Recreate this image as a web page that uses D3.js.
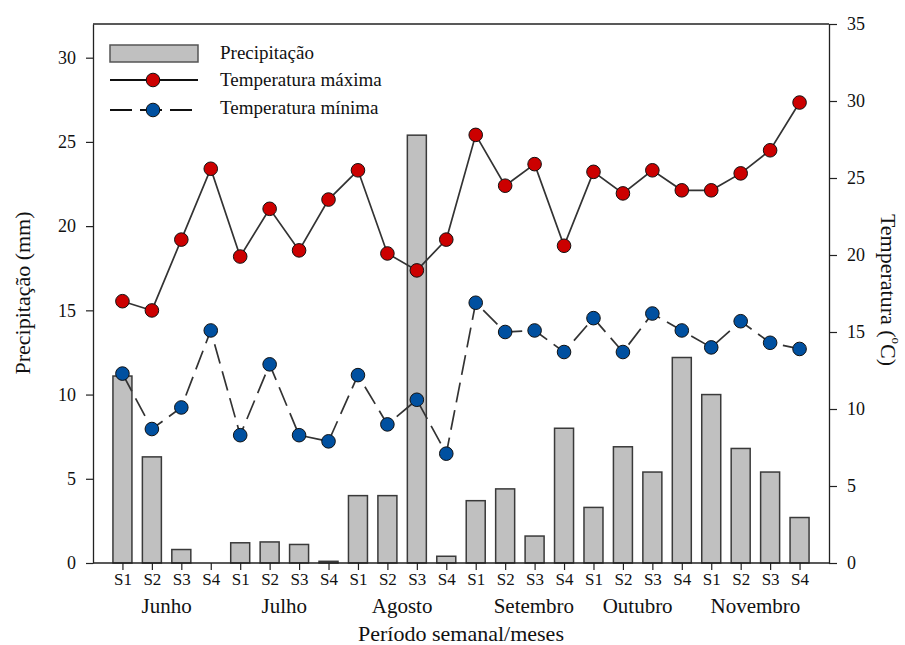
<!DOCTYPE html>
<html>
<head>
<meta charset="utf-8">
<script src="https://cdn.jsdelivr.net/npm/d3@7/dist/d3.min.js"></script>
<style>
  html, body { margin: 0; padding: 0; background: #fff; }
  svg { display: block; font-family: "Liberation Serif", "Times New Roman", serif; }
</style>
</head>
<body>
<svg id="chart" width="905" height="645"></svg>
<script>
// Weekly climate record, June to November
const months = ["Junho", "Julho", "Agosto", "Setembro", "Outubro", "Novembro"];
const weeks = ["S1", "S2", "S3", "S4"];

// Precipitation per week (mm)
const precipitacao = [
  11.1, 6.3, 0.8, 0.0,
  1.2, 1.25, 1.1, 0.1,
  4.0, 4.0, 25.4, 0.4,
  3.7, 4.4, 1.6, 8.0,
  3.3, 6.9, 5.4, 12.2,
  10.0, 6.8, 5.4, 2.7
];

// Maximum temperature per week (°C)
const tempMaxima = [
  17.0, 16.4, 21.0, 25.6,
  19.9, 23.0, 20.3, 23.6,
  25.5, 20.1, 19.0, 21.0,
  27.8, 24.5, 25.9, 20.6,
  25.4, 24.0, 25.5, 24.2,
  24.2, 25.3, 26.8, 29.9
];

// Minimum temperature per week (°C)
const tempMinima = [
  12.3, 8.7, 10.1, 15.1,
  8.3, 12.9, 8.3, 7.9,
  12.2, 9.0, 10.6, 7.1,
  16.9, 15.0, 15.1, 13.7,
  15.9, 13.7, 16.2, 15.1,
  14.0, 15.7, 14.3, 13.9
];

const precipTicks = [0, 5, 10, 15, 20, 25, 30];
const tempTicks = [0, 5, 10, 15, 20, 25, 30, 35];

// One record per week
const rows = [];
months.forEach((m, mi) => {
  weeks.forEach((w, wi) => {
    const i = mi * 4 + wi;
    rows.push({
      key: m + "-" + w, month: m, week: w,
      prec: precipitacao[i], tmax: tempMaxima[i], tmin: tempMinima[i]
    });
  });
});

const svg = d3.select("#chart");
const serif = "'Liberation Serif', 'Times New Roman', serif";
const plot = { left: 93, right: 829, top: 24, bottom: 563 };

const x = d3.scalePoint()
  .domain(rows.map(d => d.key))
  .range([plot.left, plot.right])
  .padding(1);

const yP = d3.scaleLinear().domain([0, 32]).range([plot.bottom, plot.top]);
const yT = d3.scaleLinear().domain([0, 35]).range([plot.bottom, plot.top]);

const ink = "#222";
const barW = 19;

// Bars: precipitation
svg.append("g")
  .selectAll("rect")
  .data(rows.filter(d => d.prec > 0))
  .join("rect")
  .attr("x", d => x(d.key) - barW / 2)
  .attr("y", d => yP(d.prec))
  .attr("width", barW)
  .attr("height", d => yP(0) - yP(d.prec))
  .attr("fill", "#c0c0c0")
  .attr("stroke", "#3a3a3a")
  .attr("stroke-width", 1.5);

// Frame top line
svg.append("line")
  .attr("x1", plot.left).attr("x2", plot.right)
  .attr("y1", plot.top).attr("y2", plot.top)
  .attr("stroke", ink).attr("stroke-width", 1.3);

// Axes
const styleAxis = (g, size) => {
  g.attr("font-family", serif).attr("font-size", size);
  g.selectAll(".domain").attr("stroke", ink).attr("stroke-width", 1.3);
  g.selectAll(".tick line").attr("stroke", ink).attr("stroke-width", 1.2);
  g.selectAll(".tick text").attr("fill", "#111");
};

svg.append("g")
  .attr("transform", `translate(${plot.left},0)`)
  .call(d3.axisLeft(yP).tickValues(precipTicks).tickSize(7).tickSizeOuter(0).tickPadding(10))
  .call(styleAxis, 18);

svg.append("g")
  .attr("transform", `translate(${plot.right},0)`)
  .call(d3.axisRight(yT).tickValues(tempTicks).tickSize(8).tickSizeOuter(0).tickPadding(10))
  .call(styleAxis, 18);

svg.append("g")
  .attr("transform", `translate(0,${plot.bottom})`)
  .call(d3.axisBottom(x).tickSize(7).tickSizeOuter(0).tickPadding(3)
    .tickFormat(k => k.split("-")[1]))
  .call(styleAxis, 17)
  .call(g => g.select(".domain").attr("d", `M${plot.left},0H${plot.right}`));

// Month names under each group of weeks
const monthNudge = { Setembro: 14 };
svg.append("g")
  .selectAll("text")
  .data(months)
  .join("text")
  .attr("x", m => (x(m + "-S2") + x(m + "-S3")) / 2 + (monthNudge[m] || 0))
  .attr("y", 613)
  .attr("text-anchor", "middle")
  .attr("fill", "#111")
  .style("font-size", "21px")
  .text(m => m);

// Axis titles
svg.append("text")
  .attr("x", (plot.left + plot.right) / 2)
  .attr("y", 641)
  .attr("text-anchor", "middle")
  .attr("fill", "#111")
  .style("font-size", "22px")
  .text("Período semanal/meses");

svg.append("text")
  .attr("transform", "translate(22,293) rotate(-90)")
  .attr("text-anchor", "middle")
  .attr("dominant-baseline", "central")
  .attr("fill", "#111")
  .style("font-size", "22px")
  .text("Precipitação (mm)");

const tTitle = svg.append("text")
  .attr("transform", "translate(889,290) rotate(90)")
  .attr("text-anchor", "middle")
  .attr("dominant-baseline", "central")
  .attr("fill", "#111")
  .style("font-size", "22px");
tTitle.append("tspan").text("Temperatura (");
tTitle.append("tspan").attr("dy", -8).style("font-size", "13px").text("o");
tTitle.append("tspan").attr("dy", 8).text("C)");

// Temperature lines
const lineMax = d3.line().x(d => x(d.key)).y(d => yT(d.tmax));
const lineMin = d3.line().x(d => x(d.key)).y(d => yT(d.tmin));

svg.append("path")
  .datum(rows)
  .attr("d", lineMax)
  .attr("fill", "none")
  .attr("stroke", "#333")
  .attr("stroke-width", 1.7);

svg.append("path")
  .datum(rows)
  .attr("d", lineMin)
  .attr("fill", "none")
  .attr("stroke", "#333")
  .attr("stroke-width", 1.7)
  .attr("stroke-dasharray", "20,8");

const redFill = "#cc0000";
const blueFill = "#0050a0";
const rMark = 6.8;

svg.append("g")
  .selectAll("circle")
  .data(rows)
  .join("circle")
  .attr("cx", d => x(d.key))
  .attr("cy", d => yT(d.tmax))
  .attr("r", rMark)
  .attr("fill", redFill)
  .attr("stroke", "#111")
  .attr("stroke-width", 1);

svg.append("g")
  .selectAll("circle")
  .data(rows)
  .join("circle")
  .attr("cx", d => x(d.key))
  .attr("cy", d => yT(d.tmin))
  .attr("r", rMark)
  .attr("fill", blueFill)
  .attr("stroke", "#111")
  .attr("stroke-width", 1);

// Legend
const legend = svg.append("g");
legend.append("rect")
  .attr("x", 110).attr("y", 45).attr("width", 88).attr("height", 17)
  .attr("fill", "#c0c0c0").attr("stroke", "#555").attr("stroke-width", 1.5);
legend.append("line")
  .attr("x1", 110).attr("x2", 198).attr("y1", 80).attr("y2", 80)
  .attr("stroke", "#111").attr("stroke-width", 2);
legend.append("circle")
  .attr("cx", 153).attr("cy", 80).attr("r", rMark)
  .attr("fill", redFill).attr("stroke", "#111");
legend.append("line")
  .attr("x1", 110).attr("x2", 192).attr("y1", 110).attr("y2", 110)
  .attr("stroke", "#111").attr("stroke-width", 2)
  .attr("stroke-dasharray", "22,8");
legend.append("circle")
  .attr("cx", 153).attr("cy", 110).attr("r", rMark)
  .attr("fill", blueFill).attr("stroke", "#111");

const legendLabels = ["Precipitação", "Temperatura máxima", "Temperatura mínima"];
const legendBase = [59, 86, 114];
legend.selectAll("text.lab")
  .data(legendLabels)
  .join("text")
  .attr("class", "lab")
  .attr("x", 220)
  .attr("y", (d, i) => legendBase[i])
  .attr("fill", "#111")
  .style("font-size", "19px")
  .text(d => d);
</script>
</body>
</html>
